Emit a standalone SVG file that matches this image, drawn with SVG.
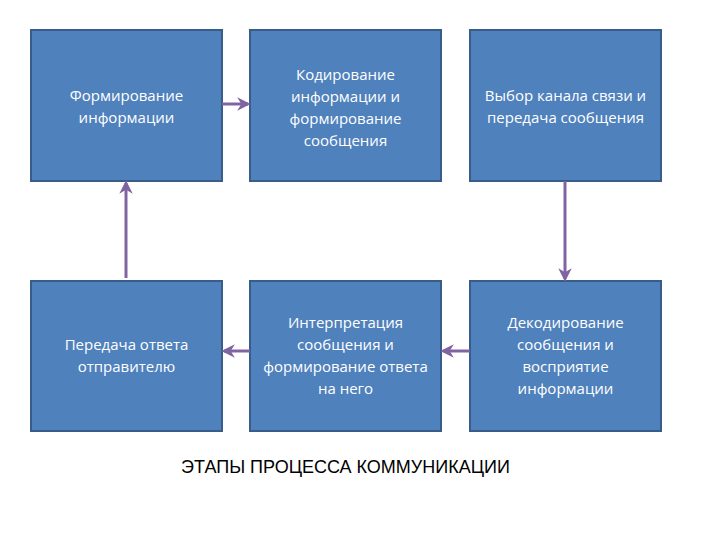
<svg xmlns="http://www.w3.org/2000/svg" width="720" height="540" viewBox="0 0 720 540">
<defs>
<style>
.box{fill:#4F81BD;stroke:#385D8A;stroke-width:2}
.t{font-family:"Open Sans","Liberation Sans",sans-serif;font-size:15px;fill:#FFFFFF;text-anchor:middle}
.c{stroke:#8064A2;stroke-width:3;fill:none;marker-end:url(#ah)}
.title{font-family:"Liberation Sans",Arial,sans-serif;font-size:18px;fill:#000;text-anchor:middle}
</style>
<marker id="ah" viewBox="0 0 10 10" refX="8" refY="5" markerWidth="4.5" markerHeight="4.5" orient="auto" markerUnits="strokeWidth">
<path d="M0,0 L10,5 L0,10 L3,5 Z" fill="#8064A2"/>
</marker>
</defs>
<rect width="720" height="540" fill="#FFFFFF"/>
<g id="n1"><rect class="box" x="31" y="30" width="191" height="151"/>
<text class="t" x="126.5" y="101">Формирование</text><text class="t" x="126.5" y="123">информации</text></g>
<g id="n2"><rect class="box" x="250" y="30" width="191" height="151"/>
<text class="t" x="345.5" y="80">Кодирование</text><text class="t" x="345.5" y="102">информации и</text><text class="t" x="345.5" y="124">формирование</text><text class="t" x="345.5" y="146">сообщения</text></g>
<g id="n3"><rect class="box" x="470" y="30" width="191" height="151"/>
<text class="t" x="565.5" y="101">Выбор канала связи и</text><text class="t" x="565.5" y="123">передача сообщения</text></g>
<g id="n4"><rect class="box" x="31" y="281" width="191" height="150"/>
<text class="t" x="126.5" y="350">Передача ответа</text><text class="t" x="126.5" y="372">отправителю</text></g>
<g id="n5"><rect class="box" x="250" y="281" width="191" height="150"/>
<text class="t" x="345.5" y="328">Интерпретация</text><text class="t" x="345.5" y="350">сообщения и</text><text class="t" x="345.5" y="372">формирование ответа</text><text class="t" x="345.5" y="394">на него</text></g>
<g id="n6"><rect class="box" x="470" y="281" width="191" height="150"/>
<text class="t" x="565.5" y="328">Декодирование</text><text class="t" x="565.5" y="350">сообщения и</text><text class="t" x="565.5" y="372">восприятие</text><text class="t" x="565.5" y="394">информации</text></g>
<g id="connectors">
<line class="c" x1="222" y1="104" x2="248" y2="104"/>
<line class="c" x1="565" y1="181" x2="565" y2="279"/>
<line class="c" x1="470" y1="351" x2="443" y2="351"/>
<line class="c" x1="250" y1="351" x2="224" y2="351"/>
<line class="c" x1="126" y1="278" x2="126" y2="183"/>
</g>
<text class="title" x="345.5" y="473">ЭТАПЫ ПРОЦЕССА КОММУНИКАЦИИ</text>
</svg>
